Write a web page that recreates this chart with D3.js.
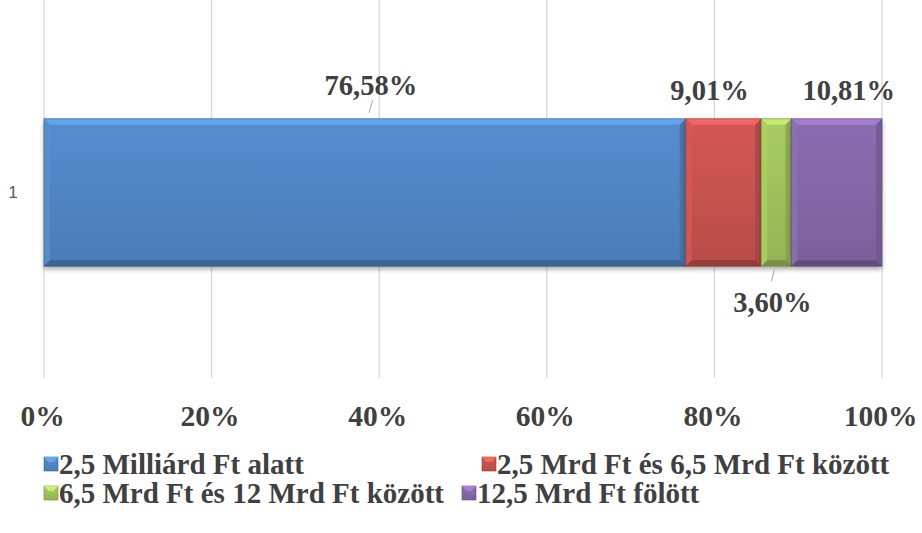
<!DOCTYPE html>
<html>
<head>
<meta charset="utf-8">
<script src="https://cdn.jsdelivr.net/npm/d3@7"></script>
<style>
  html, body { margin: 0; padding: 0; background: #fff; }
  svg { display: block; }
</style>
</head>
<body>
<svg id="chart" width="922" height="533"></svg>
<script>
// Share of companies by net revenue band (single stacked 100% bar)
const categories = ["1"];
const seriesNames = [
  "2,5 Milliárd Ft alatt",
  "2,5 Mrd Ft és 6,5 Mrd Ft között",
  "6,5 Mrd Ft és 12 Mrd Ft között",
  "12,5 Mrd Ft fölött"
];
const seriesValues = [76.58, 9.01, 3.60, 10.81];
const seriesColors = ["#4F81BD", "#C0504D", "#9BBB59", "#8064A2"];
const tickValues = [0, 20, 40, 60, 80, 100];
const tickLabels = ["0%", "20%", "40%", "60%", "80%", "100%"];

const svg = d3.select("#chart");
const textColor = "#404040";
const serif = "'Liberation Serif', 'Times New Roman', serif";

const x = d3.scaleLinear().domain([0, 100]).range([44, 882]);
const y = d3.scaleBand().domain(categories).range([45, 340]).paddingInner(0.5).paddingOuter(0.25);

// gridlines
svg.append("g")
  .selectAll("line")
  .data(tickValues)
  .join("line")
  .attr("x1", d => x(d)).attr("x2", d => x(d))
  .attr("y1", 0).attr("y2", 378)
  .attr("stroke", "#d9d9d9").attr("stroke-width", 1.3);

// bottom axis labels
const xAxis = d3.axisBottom(x).tickValues(tickValues)
  .tickFormat((d, i) => tickLabels[i]).tickSize(0).tickPadding(0);
const axG = svg.append("g").attr("transform", "translate(-2,426)").call(xAxis);
axG.select(".domain").remove();
axG.selectAll("text")
  .attr("dy", 0)
  .style("font-family", serif).style("font-weight", "bold")
  .style("font-size", "29.5px").attr("fill", textColor);

// category axis label
const yAxis = d3.axisLeft(y).tickSize(0).tickPadding(0);
const ayG = svg.append("g").attr("transform", "translate(13,0)").call(yAxis);
ayG.select(".domain").remove();
ayG.selectAll("text")
  .style("font-family", "'Liberation Sans', Arial, sans-serif")
  .style("font-size", "17px").attr("fill", "#595959").attr("text-anchor", "middle");

// stacked segments
let acc = 0;
const segs = seriesValues.map((v, i) => {
  const s = { i, name: seriesNames[i], v, x0: acc, x1: acc + v, color: seriesColors[i] };
  acc += v;
  return s;
});

const defs = svg.append("defs");
segs.forEach(s => {
  const g = defs.append("linearGradient").attr("id", "g" + s.i)
    .attr("x1", 0).attr("y1", 0).attr("x2", 0).attr("y2", 1);
  const c = d3.color(s.color);
  g.append("stop").attr("offset", "0%").attr("stop-color", c.brighter(0.25));
  g.append("stop").attr("offset", "100%").attr("stop-color", c.darker(0.12));
});
const shadow = defs.append("filter").attr("id", "shadow")
  .attr("x", "-5%").attr("y", "-10%").attr("width", "110%").attr("height", "130%");
shadow.append("feGaussianBlur").attr("in", "SourceAlpha").attr("stdDeviation", 2.5);
shadow.append("feOffset").attr("dx", 0).attr("dy", 3).attr("result", "b");
shadow.append("feComponentTransfer").append("feFuncA").attr("type", "linear").attr("slope", 0.35);
const merge = shadow.append("feMerge");
merge.append("feMergeNode");
merge.append("feMergeNode").attr("in", "SourceGraphic");

const barTop = y("1");
const barH = y.bandwidth();
const bev = 6;

const segG = svg.append("g").selectAll("g").data(segs).join("g");
segG.append("rect")
  .attr("x", d => x(d.x0)).attr("y", barTop)
  .attr("width", d => x(d.x1) - x(d.x0)).attr("height", barH)
  .attr("fill", d => `url(#g${d.i})`)
  .attr("filter", "url(#shadow)");

// bevel edges
function bevelPolys(d) {
  const L = x(d.x0), R = x(d.x1), T = barTop, B = barTop + barH;
  const b = Math.min(bev, (R - L) / 3);
  return [
    { pts: [[L, T], [R, T], [R - b, T + b], [L + b, T + b]], col: d3.color(d.color).brighter(0.7), op: 0.9 },
    { pts: [[L, T], [L + b, T + b], [L + b, B - b], [L, B]], col: d3.color(d.color).brighter(0.3), op: 0.8 },
    { pts: [[R, T], [R, B], [R - b, B - b], [R - b, T + b]], col: d3.color(d.color).darker(0.4), op: 0.8 },
    { pts: [[L, B], [L + b, B - b], [R - b, B - b], [R, B]], col: d3.color(d.color).darker(0.8), op: 0.9 }
  ];
}
segG.selectAll("polygon").data(d => bevelPolys(d)).join("polygon")
  .attr("points", p => p.pts.map(q => q.join(",")).join(" "))
  .attr("fill", p => p.col).attr("opacity", p => p.op);
segG.append("rect")
  .attr("x", d => x(d.x0)).attr("y", barTop)
  .attr("width", d => x(d.x1) - x(d.x0)).attr("height", barH)
  .attr("fill", "none").attr("stroke", d => d3.color(d.color).darker(0.9))
  .attr("stroke-width", 1).attr("stroke-opacity", 0.6);

// data labels (placement offsets per label, values come from the series)
const labelPos = [
  { dx: 6, ty: 95, above: true, leader: true },
  { dx: -14, ty: 100, above: true, leader: false },
  { dx: -4, ty: 312, above: false, leader: true },
  { dx: 12, ty: 100, above: true, leader: false }
];
const fmt = v => v.toFixed(2).replace(".", ",") + "%";
segs.forEach((s, i) => {
  const p = labelPos[i];
  const mid = (x(s.x0) + x(s.x1)) / 2;
  const cx = mid + p.dx;
  if (p.leader) {
    if (p.above) {
      svg.append("line").attr("x1", mid + 8).attr("y1", p.ty + 5)
        .attr("x2", mid + 4).attr("y2", barTop - 6)
        .attr("stroke", "#a6a6a6").attr("stroke-width", 1);
    } else {
      svg.append("line").attr("x1", mid - 2).attr("y1", barTop + barH + 4)
        .attr("x2", mid - 5).attr("y2", barTop + barH + 15)
        .attr("stroke", "#a6a6a6").attr("stroke-width", 1);
    }
  }
  svg.append("text")
    .attr("x", cx).attr("y", p.ty)
    .attr("text-anchor", "middle")
    .style("font-family", serif).style("font-weight", "bold")
    .style("font-size", "28.5px").attr("fill", textColor)
    .text(fmt(s.v));
});

// legend
const legendPos = [[44, 474], [482, 474], [44, 503], [462, 503]];
const lg = svg.append("g").selectAll("g").data(segs).join("g")
  .attr("transform", (d, i) => `translate(${legendPos[i][0]},${legendPos[i][1]})`);
lg.append("rect").attr("x", 0).attr("y", -17).attr("width", 14).attr("height", 14)
  .attr("fill", d => `url(#g${d.i})`).attr("stroke", d => d3.color(d.color).darker(0.8)).attr("stroke-width", 0.6);
lg.append("polygon")
  .attr("points", "0,-17 14,-17 9.5,-12 4.5,-12")
  .attr("fill", d => d3.color(d.color).brighter(0.7));
lg.append("text").attr("x", 15).attr("y", 0)
  .style("font-family", serif).style("font-weight", "bold")
  .style("font-size", "29px").attr("fill", textColor)
  .text(d => d.name);
</script>
</body>
</html>
